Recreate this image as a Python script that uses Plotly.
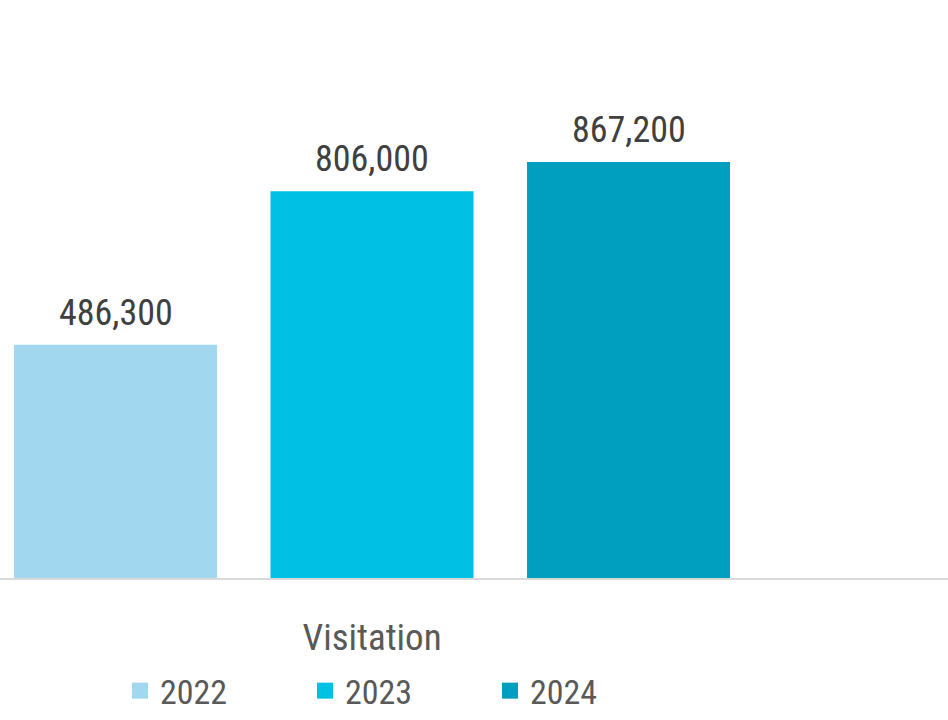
import plotly.graph_objects as go

# Annual visitation figures
category = ["Visitation"]
years = ["2022", "2023", "2024"]
visits = [486300, 806000, 867200]
colors = ["#A1D8EF", "#00C0E4", "#009FBF"]

FONT = "Roboto Condensed, DejaVu Sans Condensed, sans-serif"

fig = go.Figure()
for yr, v, c in zip(years, visits, colors):
    fig.add_trace(go.Bar(
        x=category, y=[v], name=yr, showlegend=False,
        marker=dict(color=c, line=dict(width=0)),
    ))

# legend keys: larger square swatches than the default bar key
for yr, c in zip(years, colors):
    fig.add_trace(go.Scatter(
        x=[None], y=[None], mode="markers", name=yr,
        marker=dict(symbol="square", size=20, color=c),
        hoverinfo="skip",
    ))

# value labels above each bar
slot_px = 256.5
for i, v in enumerate(visits):
    fig.add_annotation(
        x=category[0], y=v, text=f"{v:,}", showarrow=False,
        xshift=(i - 1) * slot_px, yshift=32, yanchor="middle",
        font=dict(family=FONT, size=36, color="#404040"),
    )

fig.update_layout(
    width=948, height=720,
    margin=dict(l=0, r=0, t=10, b=142, autoexpand=False),
    plot_bgcolor="white", paper_bgcolor="white",
    barmode="group", bargap=0.0, bargroupgap=0.2086,
    showlegend=True,
    legend=dict(
        orientation="h", x=120 / 948, xanchor="left", y=-0.148, yanchor="top",
        entrywidth=140, font=dict(family=FONT, size=34, color="#595959"),
        tracegroupgap=0, itemclick=False, traceorder="normal",
    ),
    xaxis=dict(
        type="category", range=[-0.4834, 0.7485], automargin=False,
        showline=True, linecolor="#D9D9D9", linewidth=2,
        ticks="outside", ticklen=26, tickcolor="rgba(0,0,0,0)",
        tickfont=dict(family=FONT, size=37, color="#595959"),
        showgrid=False,
    ),
    yaxis=dict(range=[0, 1184070], visible=False, showgrid=False),
)

fig.write_html("out.html")
